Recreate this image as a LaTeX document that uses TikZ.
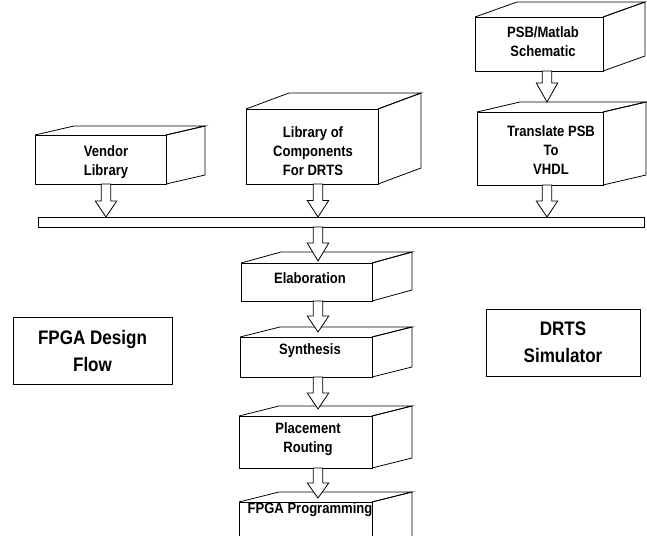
\documentclass[tikz,border=0pt]{standalone}
\usepackage{fontspec}
\setmainfont[FakeStretch=0.87]{Liberation Sans}
\usetikzlibrary{calc}
\tikzset{
  face/.style={draw, line width=0.8pt, inner sep=0pt, outer sep=0pt, fill=white},
  edge/.style={line width=0.8pt, line join=miter},
  smalltxt/.style={font=\fontsize{15}{19}\selectfont\bfseries, align=center, inner sep=0pt},
  bigtxt/.style={font=\fontsize{19.6}{27}\selectfont\bfseries, align=center, inner sep=0pt},
  arrowline/.style={draw, line width=0.8pt, fill=white, line join=miter},
}
\newcommand\cube[7]{%
  \node[face, minimum width={#4-#2}, minimum height={#5-#3}, anchor=north west] (#1) at (#2,#3) {};
  \draw[edge] (#1.north west) -- ++(#6,#7) -- ($(#1.north east)+(#6,#7)$) -- (#1.north east);
  \draw[edge] (#1.north east) -- ++(#6,#7) -- ($(#1.south east)+(#6,#7)$) -- (#1.south east);
}
% #1 start point, #2 tip point, #3 head length
\newcommand\blockarr[3]{%
  \draw[arrowline] let \p1=(#1), \p2=(#2) in
    (\x1-4.75pt,\y1) -- (\x1-4.75pt,\y2+#3) -- (\x1-10.75pt,\y2+#3) -- (\x1,\y2)
    -- (\x1+10.75pt,\y2+#3) -- (\x1+4.75pt,\y2+#3) -- (\x1+4.75pt,\y1) -- cycle;
}
\begin{document}
\begin{tikzpicture}[x=1pt,y=-1pt]
\useasboundingbox (0,0) rectangle (647,535);
\clip (0,0) rectangle (647,535);

% 3D boxes
\cube{vendor}{35}{135}{166}{184}{39}{-9}
\node[smalltxt] (vendor-t) at (106,162) {Vendor\\Library};

\cube{library}{246}{109}{378}{184}{43}{-16}
\node[smalltxt] (library-t) at (313,151) {Library of\\Components\\For DRTS};

\cube{psb}{475}{17}{603}{71}{42}{-15}
\node[smalltxt] (psb-t) at (543,42) {PSB/Matlab\\Schematic};

\cube{translate}{477}{112}{603}{185}{43}{-10}
\node[smalltxt] (translate-t) at (551,150) {Translate PSB\\To\\VHDL};

\cube{elab}{241}{263}{372}{301}{40}{-11}
\node[smalltxt] (elab-t) at (310,278) {Elaboration};

\cube{synth}{240}{337}{372}{377}{40}{-10}
\node[smalltxt] (synth-t) at (310,351) {Synthesis};

\cube{place}{239}{416}{372}{468}{40}{-10}
\node[smalltxt] (place-t) at (308,439) {Placement\\Routing};

\cube{prog}{239}{502}{372}{560}{40}{-10}
\node[smalltxt] (prog-t) at (310,510) {FPGA Programming};

% bus bar
\node[face, minimum width=606, minimum height=10, anchor=north west] (bar) at (38,217) {};

% plain boxes
\node[face, bigtxt, minimum width=159, minimum height=67] (flow) at (92.5,350.5) {FPGA Design\\Flow};
\node[face, bigtxt, minimum width=154, minimum height=67] (sim) at (563,342.5) {DRTS\\Simulator};

% arrow columns
\coordinate (c1) at (106,0);
\coordinate (c2) at (318,0);
\coordinate (c3) at (547,0);

\blockarr{vendor.south -| c1}{bar.north -| c1}{16pt}
\blockarr{library.south -| c2}{bar.north -| c2}{16.5pt}
\blockarr{psb.south -| c3}{$(translate.north -| c3)+(0,-10)$}{19pt}
\blockarr{translate.south -| c3}{bar.north -| c3}{16pt}
\blockarr{bar.south -| c2}{$(elab.north -| c2)+(0,-2)$}{18pt}
\blockarr{elab.south -| c2}{$(synth.north -| c2)+(0,-5)$}{16pt}
\blockarr{synth.south -| c2}{$(place.north -| c2)+(0,-7)$}{16pt}
\blockarr{place.south -| c2}{$(prog.north -| c2)+(0,-4)$}{15pt}
\end{tikzpicture}
\end{document}
